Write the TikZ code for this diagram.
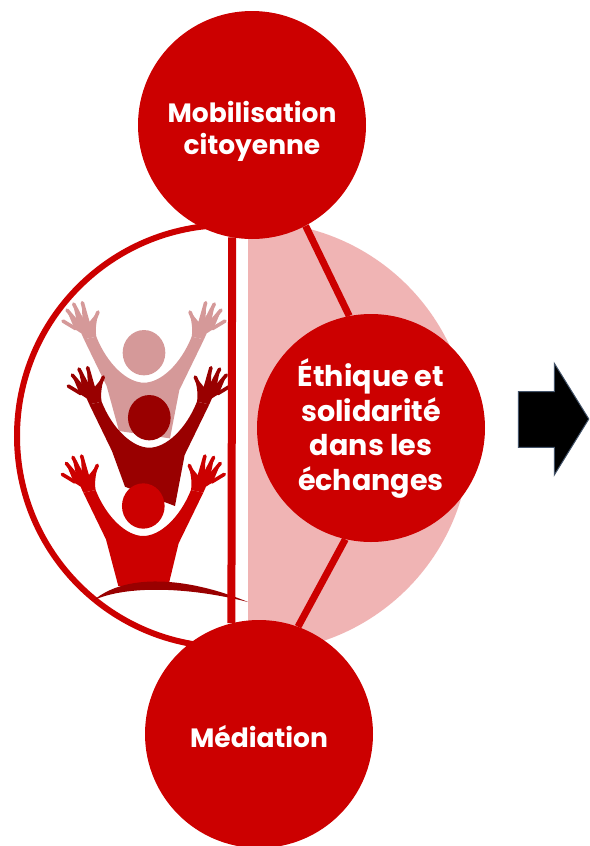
\documentclass[tikz,border=0pt]{standalone}
\usepackage{fontspec}
\setmainfont{Poppins}
\definecolor{mainred}{HTML}{CC0000}
\definecolor{darkred}{HTML}{990000}
\definecolor{softred}{HTML}{D59999}
\definecolor{palered}{HTML}{F0B4B4}
\definecolor{arrowedge}{HTML}{44546A}
\tikzset{
  bigdisc/.style={circle,fill=mainred,minimum size=228pt,inner sep=0pt,align=center,text=white,font=\fontsize{26.5}{34.5}\selectfont\bfseries},
  bigger/.style={font=\fontsize{28.6}{34.5}\selectfont\bfseries},
  link/.style={mainred,line width=7pt},
}
% person drawn in 3x units around its head centre
\newcommand\persona[5]{%
\begin{scope}[shift={(#1,#2)},x=0.3333pt,y=-0.3333pt]
  \foreach \s in {1,-1}{
    \begin{scope}[xscale=\s]
      \fill[#3] (-180,-40) -- (-188,-58) .. controls (-200,-66) and (-215,-75) .. (-247,-95) -- (-212,-80) -- (-233,-130) -- (-200,-85) -- (-213,-148) -- (-184,-90) -- (-187,-153) -- (-164,-92) -- (-137,-125) .. controls (-140,-100) and (-148,-75) .. (-143,-48) -- cycle;
      \draw[#3,line width=3.6pt,line cap=round] (-205,-72) -- (-243,-95) (-195,-85) -- (-231,-128) (-182,-90) -- (-211,-146) (-168,-90) -- (-185,-150) (-158,-75) -- (-138,-122);
    \end{scope}}
  \fill[#3] (-180,-40) -- (-112,100) -- #4 -- #5 -- (106,112) -- (180,-40) -- (143,-48) .. controls (110,35) and (50,90) .. (0,90) .. controls (-50,90) and (-110,35) .. (-143,-48) -- cycle;
  \fill[#3] (0,0) ellipse [x radius=64,y radius=68];
\end{scope}}
\begin{document}
\begin{tikzpicture}[x=1pt,y=-1pt]
\useasboundingbox (0,0) rectangle (589,846);
\fill[white] (0,0) rectangle (589,846);
% pale half disc and ring
\begin{scope}
  \clip (248,200) rectangle (500,680);
  \fill[palered] (255,437) circle [radius=215];
\end{scope}
\begin{scope}
  \clip (0,200) rectangle (231,680);
  \draw[mainred,line width=6pt] (228,436) circle [radius=211];
\end{scope}
% people
\persona{144}{352.7}{softred}{(-75,235)}{(78,257)}
\fill[white] (105,418) .. controls (125,446) and (150,450) .. (150,450) .. controls (150,450) and (175,446) .. (190,418) -- (190,444) .. controls (170,458) and (125,458) .. (115,434) -- cycle;
\persona{149.3}{417.7}{darkred}{(-73,207)}{(77,265)}
\persona{143.3}{506}{mainred}{(-75,240)}{(75,240)}
\fill[darkred] (94,600) .. controls (125,574) and (185,576) .. (248,602) .. controls (185,586) and (125,586) .. (94,600) -- cycle;
% nodes
\node[bigdisc] (top) at (252,125) {\rule{0pt}{35pt}Mobilisation\\[-2.5pt]citoyenne};
\node[bigdisc,bigger] (mid) at (371,428) {\rule{0pt}{29pt}Éthique et\\solidarité\\dans les\\échanges};
\node[bigdisc] (bot) at (259,734) {\rule{0pt}{28pt}Médiation};
% connectors
\draw[link,line width=8pt] (top.-100.5) -- (bot.104.3);
\draw[link] (top.-62.8) -- (mid.101);
\draw[link] (mid.-103) -- (bot.70.8);
% arrow
\draw[arrowedge,line width=1pt,fill=black] (518.3,391.7) -- (554.3,391.7) -- (554.3,363.3) -- (588.8,419) -- (554.3,475) -- (554.3,447.3) -- (518.3,447.3) -- cycle;
\end{tikzpicture}
\end{document}
